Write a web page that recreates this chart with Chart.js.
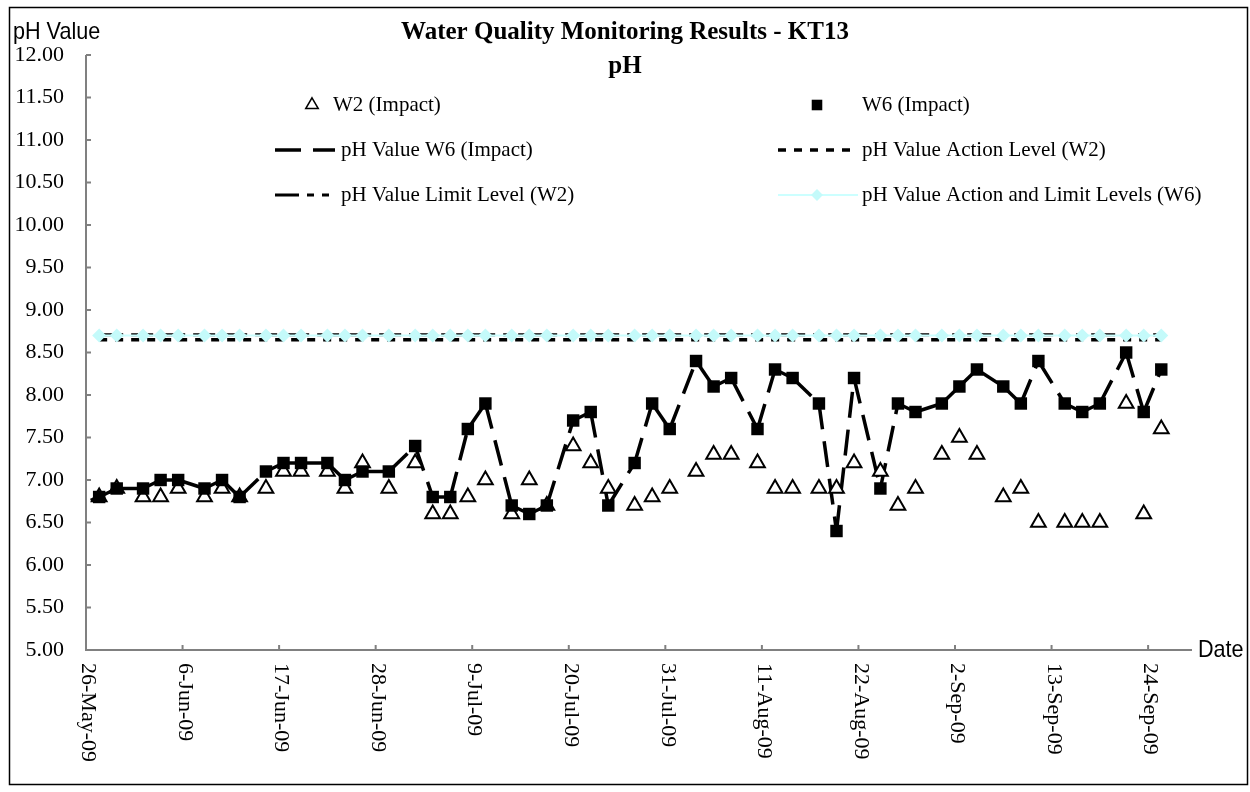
<!DOCTYPE html>
<html>
<head>
<meta charset="utf-8">
<script src="https://cdn.jsdelivr.net/npm/chart.js@4.4.0/dist/chart.umd.min.js"></script>
<style>
html, body { margin: 0; padding: 0; background: #fff; }
</style>
</head>
<body>
<canvas id="myChart" width="1250" height="792"></canvas>
<script>
var xTickLabels = ['26-May-09', '6-Jun-09', '17-Jun-09', '28-Jun-09', '9-Jul-09', '20-Jul-09',
  '31-Jul-09', '11-Aug-09', '22-Aug-09', '2-Sep-09', '13-Sep-09', '24-Sep-09'];
var yTickLabels = ['5.00', '5.50', '6.00', '6.50', '7.00', '7.50', '8.00', '8.50',
  '9.00', '9.50', '10.00', '10.50', '11.00', '11.50', '12.00'];

var sampleDates = ['27-May-09', '29-May-09', '1-Jun-09', '3-Jun-09', '5-Jun-09', '8-Jun-09',
  '10-Jun-09', '12-Jun-09', '15-Jun-09', '17-Jun-09', '19-Jun-09', '22-Jun-09', '24-Jun-09',
  '26-Jun-09', '29-Jun-09', '2-Jul-09', '4-Jul-09', '6-Jul-09', '8-Jul-09', '10-Jul-09',
  '13-Jul-09', '15-Jul-09', '17-Jul-09', '20-Jul-09', '22-Jul-09', '24-Jul-09', '27-Jul-09',
  '29-Jul-09', '31-Jul-09', '3-Aug-09', '5-Aug-09', '7-Aug-09', '10-Aug-09', '12-Aug-09',
  '14-Aug-09', '17-Aug-09', '19-Aug-09', '21-Aug-09', '24-Aug-09', '26-Aug-09', '28-Aug-09',
  '31-Aug-09', '2-Sep-09', '4-Sep-09', '7-Sep-09', '9-Sep-09', '11-Sep-09', '14-Sep-09',
  '16-Sep-09', '18-Sep-09', '21-Sep-09', '23-Sep-09', '25-Sep-09'];

var w2Values = [6.8, 6.9, 6.8, 6.8, 6.9, 6.8, 6.9, 6.8, 6.9, 7.1, 7.1, 7.1, 6.9,
  7.2, 6.9, 7.2, 6.6, 6.6, 6.8, 7.0, 6.6, 7.0, 6.7, 7.4, 7.2, 6.9, 6.7,
  6.8, 6.9, 7.1, 7.3, 7.3, 7.2, 6.9, 6.9, 6.9, 6.9, 7.2, 7.1, 6.7, 6.9,
  7.3, 7.5, 7.3, 6.8, 6.9, 6.5, 6.5, 6.5, 6.5, 7.9, 6.6, 7.6];

// W6 has one earlier reading that falls just left of the axis
var w6Dates = ['22-May-09'].concat(sampleDates);
var w6Values = [6.6, 6.8, 6.9, 6.9, 7.0, 7.0, 6.9, 7.0, 6.8, 7.1, 7.2, 7.2, 7.2, 7.0,
  7.1, 7.1, 7.4, 6.8, 6.8, 7.6, 7.9, 6.7, 6.6, 6.7, 7.7, 7.8, 6.7, 7.2,
  7.9, 7.6, 8.4, 8.1, 8.2, 7.6, 8.3, 8.2, 7.9, 6.4, 8.2, 6.9, 7.9, 7.8,
  7.9, 8.1, 8.3, 8.1, 7.9, 8.4, 7.9, 7.8, 7.9, 8.5, 7.8, 8.3];

var w2ActionLevel = 8.65;
var w2LimitLevel = 8.71;
var w6ActionLimitLevel = 8.70;

var MONTHS = { Jan: 0, Feb: 1, Mar: 2, Apr: 3, May: 4, Jun: 5, Jul: 6, Aug: 7, Sep: 8, Oct: 9, Nov: 10, Dec: 11 };
function dayNo(s) {
  var p = s.split('-');
  return Date.UTC(2000 + Number(p[2]), MONTHS[p[1]], Number(p[0])) / 86400000;
}
var day0 = dayNo(xTickLabels[0]);
// excel date axis: tick at start of the day, point in the middle of it
function xOf(s) { return dayNo(s) - day0 + 0.5; }
function xTick(s) { return dayNo(s) - day0; }

function pts(dates, vals) {
  return dates.map(function (d, i) { return { x: xOf(d), y: vals[i] }; });
}
function level(dates, v) {
  return dates.map(function (d) { return { x: xOf(d), y: v }; });
}

var SERIF = '"Liberation Serif", "Times New Roman", serif';
var SANS = '"Liberation Sans", Arial, sans-serif';

var ds = {
  w2: {
    label: 'W2 (Impact)', data: pts(sampleDates, w2Values), showLine: false,
    pointStyle: 'triangle', pointRadius: 8.5, pointBorderWidth: 2,
    pointBorderColor: '#000', pointBackgroundColor: '#fff', order: 1
  },
  w6: {
    label: 'W6 (Impact)', data: pts(w6Dates, w6Values), showLine: false,
    pointStyle: 'rect', pointRadius: 8.8, pointBorderWidth: 0,
    pointBorderColor: '#000', pointBackgroundColor: '#000', order: 0
  },
  w6Line: {
    label: 'pH Value W6 (Impact)', data: pts(w6Dates, w6Values), pointRadius: 0,
    borderColor: '#000', borderWidth: 3.5, borderDash: [26, 12], order: 2,
    // restart dash at every point like excel does
    segment: { borderDashOffset: function (c) { return c.p0DataIndex % 2 ? 0.01 : 0; } }
  },
  w2Action: {
    label: 'pH Value Action Level (W2)', data: level(sampleDates, w2ActionLevel), pointRadius: 0,
    borderColor: '#000', borderWidth: 3.5, borderDash: [8, 8], order: 5
  },
  w2Limit: {
    label: 'pH Value Limit Level (W2)', data: level(sampleDates, w2LimitLevel), pointRadius: 0,
    borderColor: '#000', borderWidth: 3, borderDash: [24, 8, 7, 8, 7, 8], order: 4
  },
  w6Level: {
    label: 'pH Value Action and Limit Levels (W6)', data: level(sampleDates, w6ActionLimitLevel),
    borderColor: '#CCFFFF', borderWidth: 2, pointStyle: 'rectRot', pointRadius: 7,
    pointBorderWidth: 0, pointBackgroundColor: '#C4FAFA', pointBorderColor: '#C4FAFA', order: 3
  }
};

function stretchedText(ctx, txt, x, y, sx) {
  ctx.save();
  ctx.translate(x, y);
  ctx.scale(sx, 1);
  ctx.fillText(txt, 0, 0);
  ctx.restore();
}

var frame = {
  id: 'frame',
  beforeDatasetsDraw: function (chart) {
    var ctx = chart.ctx, a = chart.chartArea;
    ctx.save();
    ctx.strokeStyle = '#808080';
    ctx.lineWidth = 2;
    ctx.beginPath();
    ctx.moveTo(a.left, a.top); ctx.lineTo(a.left, a.bottom); ctx.lineTo(a.right, a.bottom);
    yTickLabels.forEach(function (t) {
      var y = chart.scales.y.getPixelForValue(Number(t));
      ctx.moveTo(a.left, y); ctx.lineTo(a.left + 5, y);
    });
    xTickLabels.forEach(function (t) {
      var x = chart.scales.x.getPixelForValue(xTick(t));
      ctx.moveTo(x, a.bottom); ctx.lineTo(x, a.bottom - 5);
    });
    ctx.stroke();
    ctx.restore();
  },
  afterDraw: function (chart) {
    var ctx = chart.ctx, a = chart.chartArea;
    ctx.save();
    ctx.strokeStyle = '#000';
    ctx.lineWidth = 1.5;
    ctx.strokeRect(9.5, 7.5, 1238, 777);

    ctx.fillStyle = '#000';
    ctx.textBaseline = 'middle';
    ctx.font = '22px ' + SERIF;
    ctx.textAlign = 'right';
    yTickLabels.forEach(function (t) {
      ctx.fillText(t, 64, chart.scales.y.getPixelForValue(Number(t)));
    });
    ctx.textAlign = 'left';
    xTickLabels.forEach(function (t) {
      var x = chart.scales.x.getPixelForValue(xTick(t));
      ctx.save();
      ctx.translate(x + 2, a.bottom + 13);
      ctx.rotate(Math.PI / 2);
      ctx.fillText(t, 0, 0);
      ctx.restore();
    });

    ctx.font = '24px ' + SANS;
    stretchedText(ctx, 'pH Value', 13, 32, 0.9);
    stretchedText(ctx, 'Date', 1198, a.bottom, 0.9);

    ctx.textAlign = 'center';
    ctx.font = 'bold 25px ' + SERIF;
    ctx.fillText('Water Quality Monitoring Results - KT13', 625, 33);
    ctx.fillText('pH', 625, 67);

    // legend, two columns
    var rows = [
      [ds.w2, 'marker', 0, 0, 312, 333], [ds.w6, 'marker', 1, 0, 817, 862],
      [ds.w6Line, 'line', 0, 1, 0, 341], [ds.w2Action, 'line', 1, 1, 0, 862],
      [ds.w2Limit, 'line', 0, 2, 0, 341], [ds.w6Level, 'both', 1, 2, 817, 862]
    ];
    var colSample = [[275, 335], [778, 858]];
    ctx.font = '21px ' + SERIF;
    ctx.textAlign = 'left';
    rows.forEach(function (r) {
      var d = r[0], s = colSample[r[2]], y = 105 + r[3] * 45;
      if (r[1] !== 'marker') {
        ctx.save();
        ctx.strokeStyle = d.borderColor;
        ctx.lineWidth = d.borderWidth;
        ctx.setLineDash(d.borderDash || []);
        ctx.beginPath(); ctx.moveTo(s[0], y); ctx.lineTo(s[1], y); ctx.stroke();
        ctx.restore();
      }
      if (r[1] !== 'line') {
        ctx.save();
        ctx.fillStyle = d.pointBackgroundColor;
        ctx.strokeStyle = d.pointBorderColor;
        Chart.helpers.drawPoint(ctx, {
          pointStyle: d.pointStyle, radius: d.pointRadius * 0.85,
          borderWidth: d.pointBorderWidth, rotation: 0
        }, r[4], y);
        ctx.restore();
      }
      ctx.fillStyle = '#000';
      ctx.fillText(d.label, r[5], y);
    });
    ctx.restore();
  }
};

new Chart(document.getElementById('myChart').getContext('2d'), {
  type: 'line',
  data: { datasets: [ds.w2, ds.w6, ds.w6Line, ds.w2Action, ds.w2Limit, ds.w6Level] },
  options: {
    responsive: false,
    animation: false,
    devicePixelRatio: 1,
    layout: { padding: { left: 86, right: 58, top: 55, bottom: 142 } },
    plugins: { legend: { display: false }, tooltip: { enabled: false } },
    scales: {
      x: { type: 'linear', min: 0, max: 126, display: false },
      y: { type: 'linear', min: 5, max: 12, display: false }
    }
  },
  plugins: [frame]
});
</script>
</body>
</html>
